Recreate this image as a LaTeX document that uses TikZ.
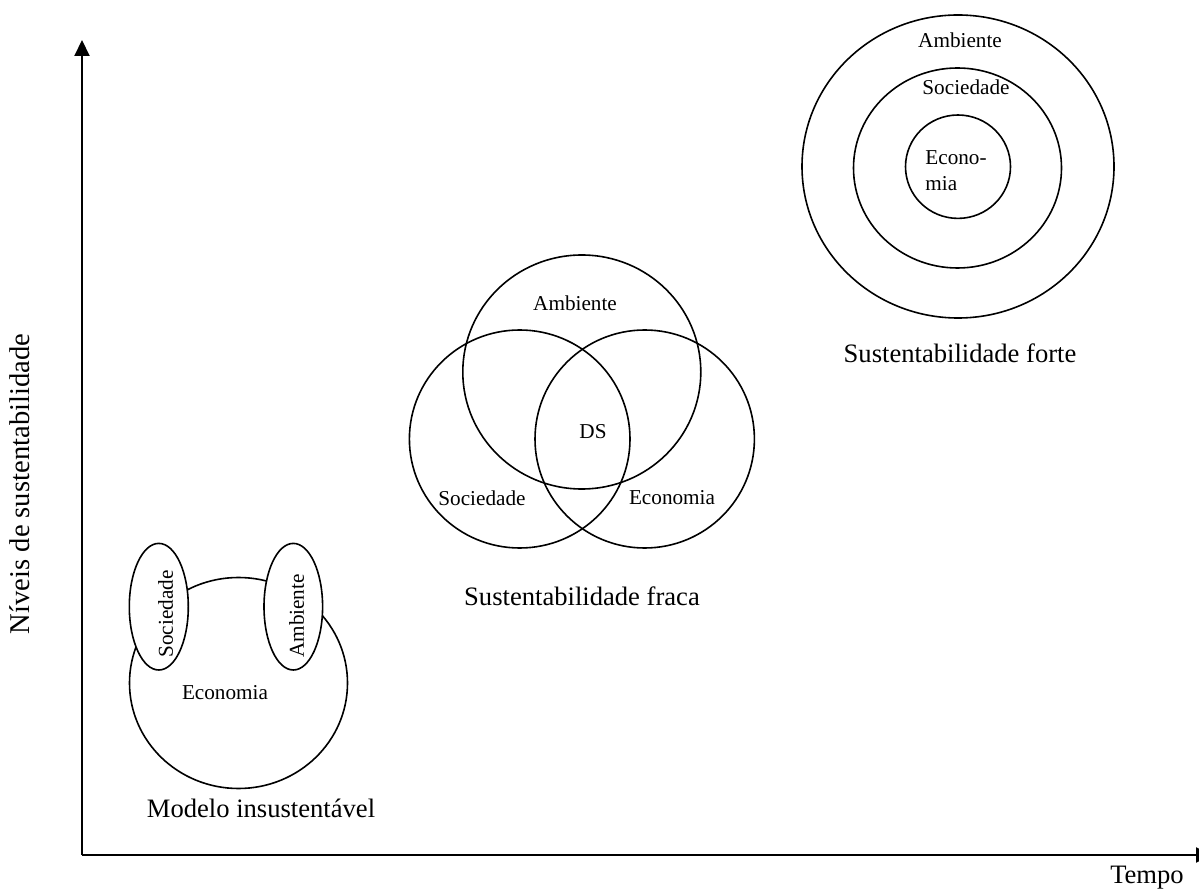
\documentclass[tikz,border=0pt]{standalone}
\usepackage{fontspec}
\setmainfont{Liberation Serif}
\usetikzlibrary{arrows.meta}
\begin{document}
\begin{tikzpicture}[x=0.5pt,y=-0.5pt,
  axis/.style={line width=1pt,-{Triangle[length=8pt,width=7.5pt]}},
  ring/.style={line width=0.8pt},
  small/.style={font=\fontsize{10.6}{12.5}\selectfont,inner sep=0pt},
  caption/.style={font=\fontsize{13.3}{15}\selectfont,inner sep=0pt}]
\useasboundingbox (0,0) rectangle (1199,892);

% axes
\coordinate (origin) at (82,855);
\coordinate (ytip) at (82,40);
\coordinate (xtip) at (1212,855);
\draw[axis] (origin) -- (ytip);
\draw[axis] (origin) -- (xtip);
\node[caption,font=\fontsize{14.3}{16}\selectfont,rotate=90] (ylabel) at (20,484) {Níveis de sustentabilidade};
\node[caption] (xlabel) at (1147,878) {Tempo};

% unsustainable model: economy with society and environment attached
\draw[ring] (238.5,683) ellipse [x radius=109, y radius=105.5];
\draw[ring,fill=white] (158.8,606.7) ellipse [x radius=29.5, y radius=63.3];
\draw[ring,fill=white] (293.3,606.7) ellipse [x radius=29.3, y radius=63.3];
\node[small,rotate=90] (msoc) at (165.5,614) {Sociedade};
\node[small,rotate=90] (mamb) at (296.5,616) {Ambiente};
\node[small] (meco) at (225,693) {Economia};
\node[caption] (mcap) at (261,808) {Modelo insustentável};

% weak sustainability: three overlapping circles
\draw[ring] (581.8,372) ellipse [x radius=119, y radius=117];
\draw[ring] (519.7,439) ellipse [x radius=110.3, y radius=109];
\draw[ring] (644.7,439) ellipse [x radius=109.7, y radius=109];
\node[small] (wamb) at (575,303) {Ambiente};
\node[small] (wds) at (593,432) {DS};
\node[small] (wsoc) at (482,498) {Sociedade};
\node[small] (weco) at (672,498) {Economia};
\node[caption] (wcap) at (582,596) {Sustentabilidade fraca};

% strong sustainability: nested circles
\draw[ring] (958,166.5) ellipse [x radius=156, y radius=151.5];
\draw[ring] (957.5,168) ellipse [x radius=104, y radius=100];
\draw[ring] (958,166.7) ellipse [x radius=52.5, y radius=51.7];
\node[small] (samb) at (960,40) {Ambiente};
\node[small] (ssoc) at (966,87) {Sociedade};
\node[small,align=left,anchor=west] (seco) at (925,170.5) {Econo-\\[0.6pt]mia};
\node[caption] (scap) at (960,353) {Sustentabilidade forte};
\end{tikzpicture}
\end{document}
